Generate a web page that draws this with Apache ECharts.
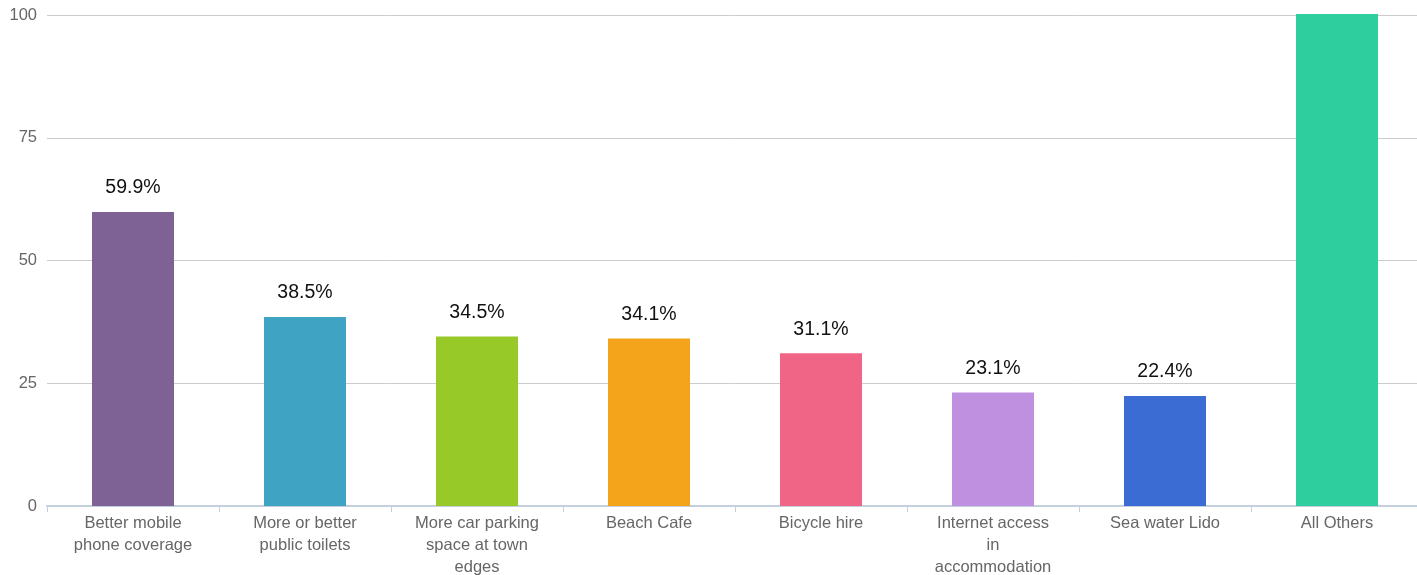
<!DOCTYPE html>
<html><head><meta charset="utf-8">
<script src="https://cdn.jsdelivr.net/npm/echarts@6/dist/echarts.min.js"></script>
<style>html,body{margin:0;padding:0;background:#fff}#c{width:1417px;height:575px}</style>
</head><body><div id="c"></div>
<script>
const categories = ["Better mobile\nphone coverage","More or better\npublic toilets","More car parking\nspace at town\nedges","Beach Cafe","Bicycle hire","Internet access\nin\naccommodation","Sea water Lido","All Others"];
const values = [59.9, 38.5, 34.5, 34.1, 31.1, 23.1, 22.4, 100.2];
const showLabel = [true, true, true, true, true, true, true, false];
const colors = ["#7E6295","#3FA3C3","#97C928","#F4A41B","#F06485","#BF8FE0","#3A6CD4","#2ECE9E"];
const yTicks = [0, 25, 50, 75, 100];

const chart = echarts.init(document.getElementById('c'));
chart.setOption({
  animation: false,
  textStyle: {fontFamily: 'Liberation Sans, Arial, sans-serif'},
  grid: {left: 47, width: 1376, top: 15, bottom: 69, containLabel: false, outerBoundsMode: 'none'},
  xAxis: {
    type: 'category', data: categories,
    axisLine: {lineStyle: {color: '#C3CFDD', width: 2}},
    axisTick: {show: true, length: 6, lineStyle: {color: '#C3CFDD', width: 1}},
    axisLabel: {color: '#666', fontSize: 16.5, lineHeight: 22, margin: 6, interval: 0}
  },
  yAxis: {
    type: 'value', min: yTicks[0], max: yTicks[yTicks.length-1], interval: 25,
    axisLine: {show: false}, axisTick: {show: false},
    splitLine: {lineStyle: {color: '#CCCCCC', width: 1}},
    axisLabel: {color: '#666', fontSize: 16.5, margin: 10}
  },
  series: [{
    type: 'bar', clip: false, barWidth: 82,
    data: values.map((v, i) => ({
      value: v,
      itemStyle: {color: colors[i]},
      label: {show: showLabel[i]}
    })),
    label: {position: 'top', distance: 14, color: '#111', fontSize: 19.5, formatter: p => p.value + '%'}
  }]
});
</script></body></html>
